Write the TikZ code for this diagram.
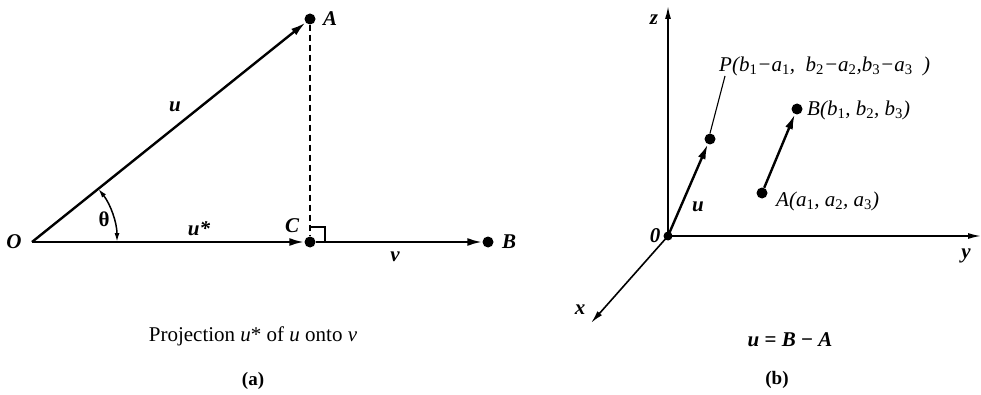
\documentclass[tikz,border=0pt]{standalone}
\usepackage{fontspec}
\setmainfont{Liberation Serif}
\usetikzlibrary{arrows.meta}
\newcommand\sbs[1]{\textsubscript{\upshape #1}}
\begin{document}
\begin{tikzpicture}[x=1pt,y=1pt,
  vec/.style={line width=2.4pt,-{Latex[length=15pt,width=8pt]}},
  axis/.style={line width=1.6pt,-{Latex[length=13pt,width=6pt]}},
  dot/.style={circle,fill=black,inner sep=0pt,minimum size=11pt},
  lbl/.style={font=\fontsize{21}{24}\selectfont\bfseries\itshape, inner sep=1pt},
  ilbl/.style={font=\fontsize{21}{24}\selectfont\itshape, inner sep=1pt},
  txt/.style={font=\fontsize{21}{24}\selectfont, inner sep=1pt}]
\useasboundingbox (0,0) rectangle (981,394);
% ---------- panel (a)
\coordinate (O) at (32,152);
\node[dot] (A) at (310,375) {};
\node[dot] (C) at (310,152) {};
\node[dot] (B) at (488,152) {};
\draw[vec] (O) -- (A);
\draw[vec] (O) -- (C);
\draw[vec] (C) -- (B);
\draw[line width=1.6pt, dash pattern=on 6pt off 4pt] (A) -- (C);
\draw[line width=1.5pt] (C.center) ++(0,15) -- ++(15,0) -- ++(0,-15);
\draw[line width=1.5pt,{Latex[length=9pt,width=5pt]}-{Latex[length=9pt,width=5pt]}]
  ([shift={(38.7:85)}]O) arc[start angle=38.7,end angle=0,radius=85];
\node[lbl] (lO) at (14,152) {O};
\node[lbl] (lA) at (330,375) {A};
\node[lbl] (lB) at (509,152) {B};
\node[lbl] (lC) at (292,168) {C};
\node[lbl] (lu) at (175,287) {u};
\node[lbl] (lus) at (199,165) {u*};
\node[txt,font=\fontsize{21}{24}\selectfont\bfseries] (lth) at (104,175) {θ};
\node[lbl] (lv) at (395,137) {v};
\node[txt] (capa) at (253,58) {Projection \textit{u}* of \textit{u} onto \textit{v}};
\node[txt,font=\fontsize{19}{22}\selectfont\bfseries] (ta) at (253,13) {(a)};
% ---------- panel (b)
\node[circle,fill=black,inner sep=0pt,minimum size=9pt] (O2) at (668,158) {};
\coordinate (zend) at (668,388);
\coordinate (yend) at (981,158);
\coordinate (xend) at (591,71);
\draw[axis] (O2.center) -- (zend);
\draw[axis] (O2.center) -- (yend);
\draw[axis] (O2.center) -- (xend);
\node[lbl] (lz) at (654,374) {z};
\node[lbl] (ly) at (966,138) {y};
\node[lbl] (lx) at (580,84) {x};
\node[lbl] (lO2) at (655,158) {0};
\node[dot] (P) at (710,255) {};
\node[dot] (B2) at (797,285) {};
\node[dot] (A2) at (762,201) {};
\draw[vec] (O2.center) -- (P);
\draw[vec] (A2) -- (B2);
\node[lbl] (lu2) at (698,187) {u};
\node[ilbl,anchor=west] (lP) at (718,328)
  {P(b\sbs{1}−a\sbs{1}, \ b\sbs{2}−a\sbs{2},b\sbs{3}−a\sbs{3} \ )};
\coordinate (Pl) at (725,318);
\draw[line width=1.1pt] (Pl) -- (P.north);
\node[ilbl,anchor=west] (lB2) at (806,284) {B(b\sbs{1}, b\sbs{2}, b\sbs{3})};
\node[ilbl,anchor=west] (lA2) at (775,193) {A(a\sbs{1}, a\sbs{2}, a\sbs{3})};
\node[txt] (capb) at (790,54) {\textbf{\textit{u} = \textit{B} − \textit{A}}};
\node[txt,font=\fontsize{19}{22}\selectfont\bfseries] (tb) at (777,14) {(b)};
\end{tikzpicture}
\end{document}
